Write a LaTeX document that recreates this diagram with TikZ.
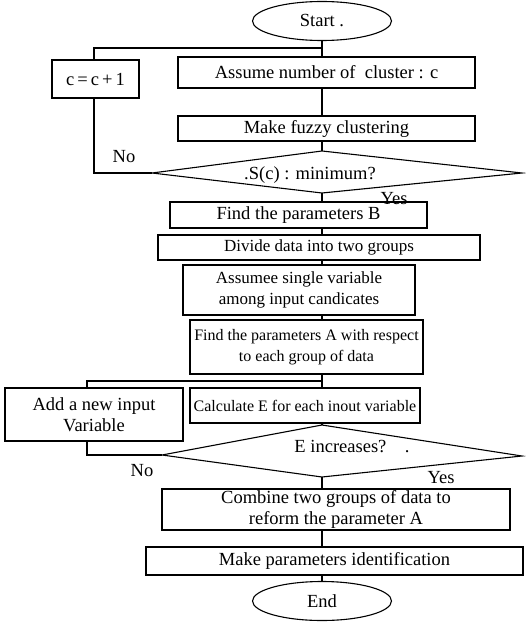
\documentclass[tikz,border=0pt]{standalone}
\usepackage{fontspec}
\setmainfont{Liberation Serif}
\usetikzlibrary{shapes.geometric}
\begin{document}
\begin{tikzpicture}[x=1pt,y=-1pt,
  every node/.style={font=\fontsize{18.5}{20.5}\selectfont, inner sep=0pt},
  small/.style={font=\fontsize{16}{20.5}\selectfont},
  mid/.style={font=\fontsize{17}{20.5}\selectfont},
  pbox/.style={draw, line width=1.1pt, rectangle, align=center},
  term/.style={draw, line width=1.1pt, ellipse, minimum width=139pt, minimum height=39pt},
  flow/.style={line width=1.1pt},
  dia/.style={line width=1.1pt}]
\useasboundingbox (0,0) rectangle (525,623);
\coordinate (col) at (322,0);

\node[term] (start) at (322,21) {Start .};
\node[pbox, minimum width=297pt, minimum height=31pt] (b1) at (326.5,72.5) {Assume number of \ cluster : c};
\node[pbox, minimum width=297pt, minimum height=25pt] (b2) at (326.5,128.5) {Make fuzzy clustering};
\node[pbox, minimum width=87pt, minimum height=38pt] (cb) at (95.5,79) {c\,=\,c\,+\,1};

% diamond 1
\coordinate (d1t) at (322,151);
\coordinate (d1b) at (322,193);
\coordinate (d1l) at (152,173);
\coordinate (d1r) at (522,173);
\draw[dia] (d1t) -- (d1r) -- (d1b) -- (d1l) -- cycle;
\node (d1) at (310,175) {.S(c) : minimum?};

\node[pbox, minimum width=257pt, minimum height=26pt] (b3) at (298.5,215) {Find the parameters B};
\node[pbox, mid, minimum width=322pt, minimum height=25pt] (b4) at (319,247.5) {Divide data into two groups};
\node[pbox, mid, minimum width=232pt, minimum height=50pt] (b5) at (299,290) {Assumee single variable\\among input candicates};
\node[pbox, small, minimum width=233pt, minimum height=54pt] (b6) at (306.5,347) {Find the parameters A with respect\\to each group of data};
\node[pbox, minimum width=178pt, minimum height=53pt] (b7) at (94,414.5) {Add a new input\\Variable};
\node[pbox, small, minimum width=230pt, minimum height=35pt] (b8) at (305,405.5) {Calculate E for each inout variable};

% diamond 2
\coordinate (d2t) at (322,425);
\coordinate (d2b) at (322,477);
\coordinate (d2l) at (162,455);
\coordinate (d2r) at (522,456);
\draw[dia] (d2t) -- (d2r) -- (d2b) -- (d2l) -- cycle;
\node (d2) at (352,447) {E increases?\quad.};

\node[pbox, minimum width=348pt, minimum height=41pt] (b9) at (336,509.5) {Combine two groups of data to\\reform the parameter A};
\node[pbox, minimum width=377pt, minimum height=28pt] (b10) at (334.5,561) {Make parameters identification};
\node[term] (end) at (322,601) {End};

% labels
\node (no1) at (124,157) {No};
\node (yes1) at (394,199) {Yes};
\node (no2) at (142,471) {No};
\node (yes2) at (441,478) {Yes};

% main flow
\draw[flow] (start.south) -- (col |- b1.north);
\draw[flow] (col |- b1.south) -- (col |- b2.north);
\draw[flow] (col |- b2.south) -- (d1t);
\draw[flow] (d1b) -- (col |- b3.north);
\draw[flow] (col |- b3.south) -- (col |- b4.north);
\draw[flow] (col |- b4.south) -- (col |- b5.north);
\draw[flow] (col |- b5.south) -- (col |- b6.north);
\draw[flow] (col |- b6.south) -- (col |- b8.north);
\draw[flow] (col |- b8.south) -- (d2t);
\draw[flow] (d2b) -- (col |- b9.north);
\draw[flow] (col |- b9.south) -- (col |- b10.north);
\draw[flow] (col |- b10.south) -- (end.north);

% loop 1
\coordinate (j1) at (322,48);
\coordinate (l1x) at (94,0);
\draw[flow] (d1l) -- (l1x |- d1l) -- (l1x |- cb.south);
\draw[flow] (l1x |- cb.north) -- (l1x |- j1) -- (j1);

% loop 2
\coordinate (j2) at (322,381);
\coordinate (l2x) at (87,0);
\draw[flow] (d2l) -- (l2x |- d2l) -- (l2x |- b7.south);
\draw[flow] (l2x |- b7.north) -- (l2x |- j2) -- (j2);
\end{tikzpicture}
\end{document}
